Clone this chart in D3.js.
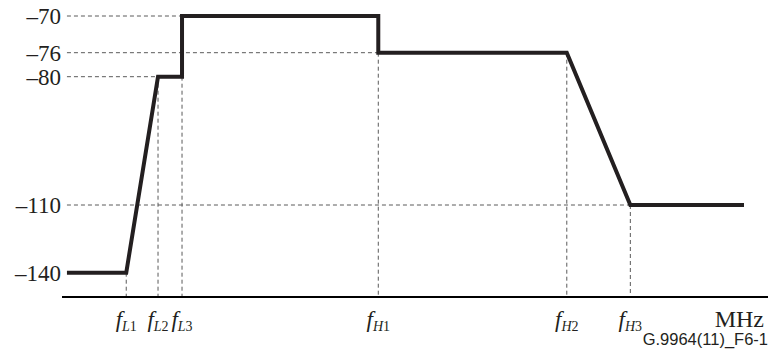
<!DOCTYPE html>
<html>
<head>
<meta charset="utf-8">
<script src="https://cdn.jsdelivr.net/npm/d3@7"></script>
<style>
  body { margin: 0; background: #fff; }
  svg { display: block; }
</style>
</head>
<body>
<div id="chart"></div>
<script>
// PSD mask levels (dBm/Hz) and the frequency break points (relative position on the MHz axis)
var levels = [-140, -110, -80, -76, -70];
var freqNames = ["L1", "L2", "L3", "H1", "H2", "H3"];
var freqPos = [9.1, 13.6, 17.0, 44.8, 71.5, 80.5];
var maskStart = 0.7, maskEnd = 96.6;
// mask corner points, in order
var maskFreq = [maskStart, 9.1, 13.6, 17.0, 17.0, 44.8, 44.8, 71.5, 80.5, maskEnd];
var maskLevel = [-140, -140, -80, -80, -70, -70, -76, -76, -110, -110];

var width = 773, height = 356;

var svg = d3.select("#chart").append("svg")
  .attr("width", width)
  .attr("height", height);

// x is just relative frequency, no real numbers on the axis
var x = d3.scaleLinear().domain([0, 100]).range([62, 768]);
// y axis of the original is not linear, so use a piecewise scale
var y = d3.scaleLinear()
  .domain(levels)
  .range([272.7, 205, 76.7, 52.7, 16]);

var data = maskFreq.map(function(f, i) { return {f: f, v: maskLevel[i]}; });

// dashed guide lines
var guides = svg.append("g")
  .attr("stroke", "#5a5a5a")
  .attr("stroke-width", 1)
  .attr("stroke-dasharray", "4,3")
  .attr("fill", "none");

// horizontal: from the axis labels to the first point where the mask reaches that level
levels.forEach(function(lv) {
  var hit = data.find(function(d) { return d.v == lv; });
  if (!hit || hit.f == maskStart) return;
  guides.append("line")
    .attr("x1", x(maskStart)).attr("x2", x(hit.f))
    .attr("y1", y(lv)).attr("y2", y(lv));
});

// vertical: from the lowest mask point at each break frequency down to the axis
freqPos.forEach(function(f) {
  var low = d3.min(data.filter(function(d) { return d.f == f; }), function(d) { return d.v; });
  guides.append("line")
    .attr("x1", x(f)).attr("x2", x(f))
    .attr("y1", y(low)).attr("y2", 297);
});

// x axis line
svg.append("line")
  .attr("x1", x(0)).attr("x2", x(100))
  .attr("y1", 297).attr("y2", 297)
  .attr("stroke", "#000")
  .attr("stroke-width", 2);

// the mask
var line = d3.line()
  .x(function(d) { return x(d.f); })
  .y(function(d) { return y(d.v); });

svg.append("path")
  .datum(data)
  .attr("d", line)
  .attr("fill", "none")
  .attr("stroke", "#231f20")
  .attr("stroke-width", 4)
  .attr("stroke-linejoin", "miter");

var serif = "Liberation Serif, Times New Roman, serif";

// y axis labels
var yAxis = d3.axisLeft(y)
  .tickValues(levels)
  .tickSize(0)
  .tickPadding(0)
  .tickFormat(function(d) { return "\u2013" + Math.abs(d); });

var gy = svg.append("g")
  .attr("transform", "translate(61,0)")
  .call(yAxis);
gy.select(".domain").remove();
gy.selectAll("text")
  .attr("font-family", serif)
  .attr("font-size", 23)
  .attr("fill", "#231f20")
  .attr("dy", "0.33em");

// x labels f with subscripts
var xl = svg.append("g")
  .selectAll("text")
  .data(freqNames)
  .enter()
  .append("text")
    .attr("x", function(d, i) { return x(freqPos[i]); })
    .attr("y", 327)
    .attr("text-anchor", "middle")
    .attr("font-family", serif)
    .attr("font-size", 23)
    .attr("fill", "#231f20");

xl.append("tspan")
  .attr("font-style", "italic")
  .text("f");
xl.append("tspan")
  .attr("font-style", "italic")
  .attr("font-size", 14)
  .attr("dy", 4)
  .text(function(d) { return d.charAt(0); });
xl.append("tspan")
  .attr("font-size", 14)
  .text(function(d) { return d.charAt(1); });

svg.append("text")
  .attr("x", 764)
  .attr("y", 327)
  .attr("text-anchor", "end")
  .attr("font-family", serif)
  .attr("font-size", 24)
  .attr("fill", "#231f20")
  .text("MHz");

svg.append("text")
  .attr("x", 768)
  .attr("y", 345)
  .attr("text-anchor", "end")
  .attr("font-family", "Liberation Sans, Arial, sans-serif")
  .attr("font-size", 16.5)
  .attr("fill", "#231f20")
  .text("G.9964(11)_F6-1");
</script>
</body>
</html>
